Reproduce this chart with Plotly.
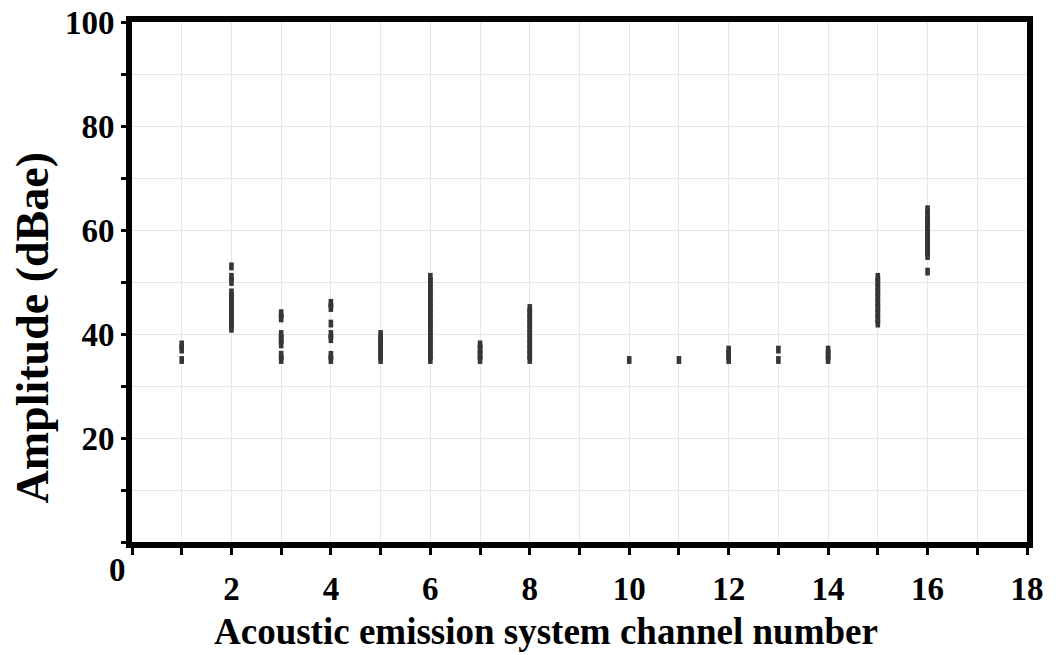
import plotly.graph_objects as go

# Channel numbers and the amplitude values (dBae) of recorded hits per channel
channels = [1, 2, 3, 4, 5, 6, 7, 8, 10, 11, 12, 13, 14, 15, 16]
ch1 = [35, 37, 38]
ch2 = [41, 42, 43, 44, 45, 46, 47, 48, 50, 51, 53]
ch3 = [35, 36, 38, 39, 40, 43, 44]
ch4 = [35, 36, 39, 40, 42, 45, 46]
ch5 = [35, 36, 37, 38, 39, 40]
ch6 = [35, 36, 37, 38, 39, 40, 41, 42, 43, 44, 45, 46, 47, 48, 49, 50, 51]
ch7 = [35, 36, 37, 38]
ch8 = [35, 36, 37, 38, 39, 40, 41, 42, 43, 44, 45]
ch10 = [35]
ch11 = [35]
ch12 = [35, 36, 37]
ch13 = [35, 37]
ch14 = [35, 36, 37]
ch15 = [42, 43, 44, 45, 46, 47, 48, 49, 50, 51]
ch16 = [52, 55, 56, 57, 58, 59, 60, 61, 62, 63, 64]
amplitudes = [ch1, ch2, ch3, ch4, ch5, ch6, ch7, ch8, ch10, ch11, ch12, ch13, ch14, ch15, ch16]

x_ticks = list(range(0, 19))
x_labels = ["" if (v == 0 or v % 2) else str(v) for v in x_ticks]
y_ticks = list(range(0, 101, 10))
y_labels = ["" if (v == 0 or v % 20) else str(v) for v in y_ticks]

# points, with a break (None) wherever consecutive dB values are not adjacent
xs, ys = [], []
for ch, amps in zip(channels, amplitudes):
    prev = None
    for a in sorted(amps):
        if prev is not None and a - prev > 1:
            xs.append(None)
            ys.append(None)
        xs.append(ch)
        ys.append(a)
        prev = a
    xs.append(None)
    ys.append(None)

MARK = "#363636"
FONT = "Liberation Serif"
fig = go.Figure()
fig.add_trace(go.Scatter(
    x=xs, y=ys, mode="lines+markers", connectgaps=False,
    line=dict(color=MARK, width=4.6),
    marker=dict(symbol="line-ns", size=5.6, color=MARK,
                line=dict(color=MARK, width=4.6)),
    showlegend=False, hoverinfo="x+y",
))

fig.update_layout(
    width=1050, height=647,
    margin=dict(l=124, r=31, t=14.3, b=112.7),
    paper_bgcolor="white", plot_bgcolor="white",
    font=dict(family=FONT, color="black"),
    xaxis=dict(
        range=[0, 18], tickmode="array", tickvals=x_ticks, ticktext=x_labels,
        automargin=False,
        showgrid=True, gridcolor="#e6e6e6", gridwidth=1,
        showline=True, linecolor="black", linewidth=6, mirror=True,
        ticks="outside", ticklen=7, tickwidth=2.5, tickcolor="black",
        ticklabelstandoff=5, ticklabeloverflow="allow",
        tickfont=dict(family=FONT, size=33, weight=700, color="black"),
        zeroline=False,
    ),
    yaxis=dict(
        range=[0, 100], tickmode="array", tickvals=y_ticks, ticktext=y_labels,
        automargin=False,
        showgrid=True, gridcolor="#e6e6e6", gridwidth=1,
        showline=True, linecolor="black", linewidth=6, mirror=True,
        ticks="outside", ticklen=5, tickwidth=2.5, tickcolor="black",
        ticklabelstandoff=0, ticklabeloverflow="allow",
        tickfont=dict(family=FONT, size=33, weight=700, color="black"),
        zeroline=False,
    ),
)
fig.add_annotation(
    text="Amplitude (dBae)", textangle=-90,
    x=-0.111, y=0.412, xref="paper", yref="paper",
    showarrow=False, xanchor="center", yanchor="middle",
    font=dict(family=FONT, size=46, weight=700, color="black"),
)
fig.add_annotation(
    text="Acoustic emission system channel number",
    x=0.463, y=-0.173, xref="paper", yref="paper",
    showarrow=False, xanchor="center", yanchor="middle",
    font=dict(family=FONT, size=37, weight=700, color="black"),
)
fig.add_annotation(
    text="0", x=-0.016, y=-0.053, xref="paper", yref="paper",
    showarrow=False, xanchor="center", yanchor="middle",
    font=dict(family=FONT, size=33, weight=700, color="black"),
)
fig.write_html("out.html")
